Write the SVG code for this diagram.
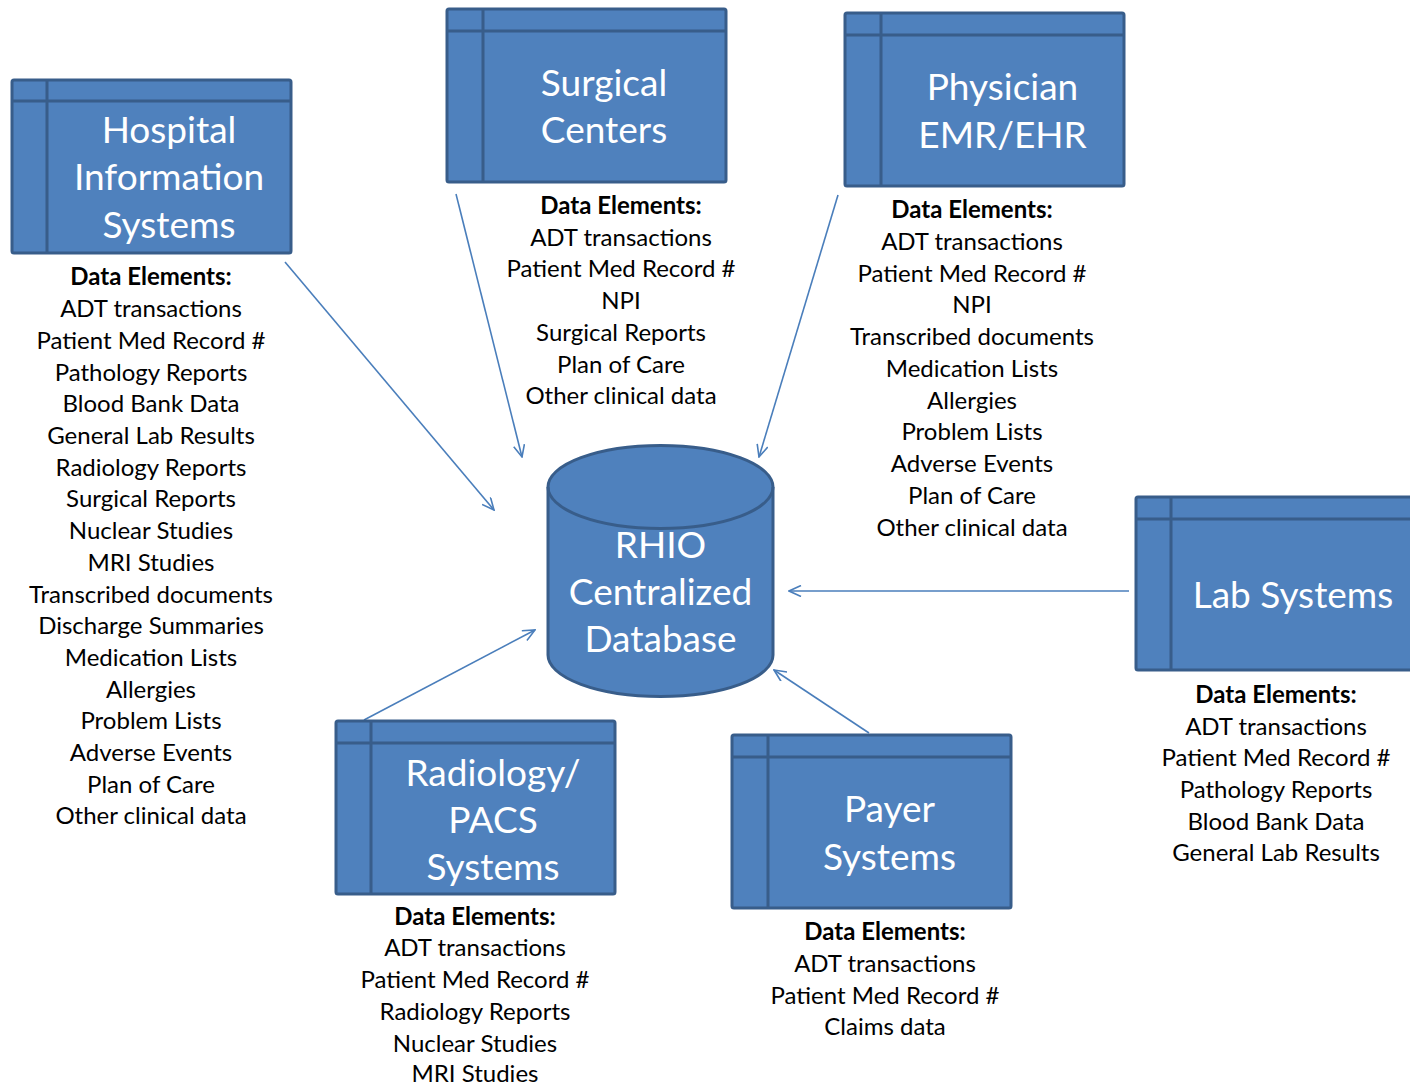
<svg xmlns="http://www.w3.org/2000/svg" width="1410" height="1084" viewBox="0 0 1410 1084">
<defs>
<style>
.box{fill:#4f81bd;stroke:#385d8a;stroke-width:3}
.ln{stroke:#385d8a;stroke-width:3;fill:none}
.title{font-family:Lato,"Open Sans",sans-serif;font-size:37px;fill:#ffffff;text-anchor:middle}
.list{font-family:Lato,"Open Sans",sans-serif;font-size:24px;fill:#000000;text-anchor:middle}
.hd{font-weight:bold}
.conn{stroke:#4a7ebb;stroke-width:1.6;fill:none;marker-end:url(#arr)}
</style>
<marker id="arr" viewBox="0 0 14 12" refX="13" refY="6" markerWidth="14" markerHeight="12" markerUnits="userSpaceOnUse" orient="auto">
<path d="M1,0.5 L13,6 L1,11.5" fill="none" stroke="#4a7ebb" stroke-width="1.6"/>
</marker>
</defs>
<rect width="1410" height="1084" fill="#ffffff"/>

<g id="connectors">
<line class="conn" x1="285" y1="262" x2="494" y2="510"/>
<line class="conn" x1="456" y1="194" x2="522" y2="457"/>
<line class="conn" x1="838" y1="195" x2="759" y2="457"/>
<line class="conn" x1="1129" y1="591" x2="789" y2="591"/>
<line class="conn" x1="364" y1="720" x2="535" y2="630"/>
<line class="conn" x1="869" y1="733" x2="774" y2="670"/>
</g>

<g id="rhio">
<path class="box" d="M548,487 L548,655 A112.5,41.5 0 0 0 773,655 L773,487 A112.5,41.5 0 0 0 548,487 Z"/>
<path class="ln" d="M548,487 A112.5,41.5 0 0 0 773,487"/>
<text class="title" x="660.5" y="558">RHIO</text>
<text class="title" x="660.5" y="605">Centralized</text>
<text class="title" x="660.5" y="652">Database</text>
</g>

<g id="hospital">
<rect class="box" x="12" y="80" width="279" height="173" rx="2"/>
<path class="ln" d="M47,80 V253 M12,101 H291"/>
<text class="title" x="169" y="143">Hospital</text>
<text class="title" x="169" y="190">Information</text>
<text class="title" x="169" y="238">Systems</text>
<g class="list">
<text x="151" y="285" class="hd">Data Elements:</text>
<text x="151" y="317">ADT transactions</text>
<text x="151" y="349">Patient Med Record #</text>
<text x="151" y="381">Pathology Reports</text>
<text x="151" y="412">Blood Bank Data</text>
<text x="151" y="444">General Lab Results</text>
<text x="151" y="476">Radiology Reports</text>
<text x="151" y="507">Surgical Reports</text>
<text x="151" y="539">Nuclear Studies</text>
<text x="151" y="571">MRI Studies</text>
<text x="151" y="603">Transcribed documents</text>
<text x="151" y="634">Discharge Summaries</text>
<text x="151" y="666">Medication Lists</text>
<text x="151" y="698">Allergies</text>
<text x="151" y="729">Problem Lists</text>
<text x="151" y="761">Adverse Events</text>
<text x="151" y="793">Plan of Care</text>
<text x="151" y="824">Other clinical data</text>
</g>
</g>

<g id="surgical">
<rect class="box" x="447" y="9" width="279" height="173" rx="2"/>
<path class="ln" d="M483,9 V182 M447,31 H726"/>
<text class="title" x="604" y="96">Surgical</text>
<text class="title" x="604" y="143">Centers</text>
<g class="list">
<text x="621" y="214" class="hd">Data Elements:</text>
<text x="621" y="246">ADT transactions</text>
<text x="621" y="277">Patient Med Record #</text>
<text x="621" y="309">NPI</text>
<text x="621" y="341">Surgical Reports</text>
<text x="621" y="373">Plan of Care</text>
<text x="621" y="404">Other clinical data</text>
</g>
</g>

<g id="physician">
<rect class="box" x="845" y="13" width="279" height="173" rx="2"/>
<path class="ln" d="M881,13 V186 M845,35 H1124"/>
<text class="title" x="1002.5" y="100">Physician</text>
<text class="title" x="1002.5" y="148">EMR/EHR</text>
<g class="list">
<text x="972" y="218" class="hd">Data Elements:</text>
<text x="972" y="250">ADT transactions</text>
<text x="972" y="282">Patient Med Record #</text>
<text x="972" y="313">NPI</text>
<text x="972" y="345">Transcribed documents</text>
<text x="972" y="377">Medication Lists</text>
<text x="972" y="409">Allergies</text>
<text x="972" y="440">Problem Lists</text>
<text x="972" y="472">Adverse Events</text>
<text x="972" y="504">Plan of Care</text>
<text x="972" y="536">Other clinical data</text>
</g>
</g>

<g id="lab">
<rect class="box" x="1136" y="497" width="279" height="173" rx="2"/>
<path class="ln" d="M1171,497 V670 M1136,519 H1415"/>
<text class="title" x="1293" y="608">Lab Systems</text>
<g class="list">
<text x="1276" y="703" class="hd">Data Elements:</text>
<text x="1276" y="735">ADT transactions</text>
<text x="1276" y="766">Patient Med Record #</text>
<text x="1276" y="798">Pathology Reports</text>
<text x="1276" y="830">Blood Bank Data</text>
<text x="1276" y="861">General Lab Results</text>
</g>
</g>

<g id="radiology">
<rect class="box" x="336" y="721" width="279" height="173" rx="2"/>
<path class="ln" d="M371,721 V894 M336,743 H615"/>
<text class="title" x="493" y="786">Radiology/</text>
<text class="title" x="493" y="833">PACS</text>
<text class="title" x="493" y="880">Systems</text>
<g class="list">
<text x="475" y="925" class="hd">Data Elements:</text>
<text x="475" y="956">ADT transactions</text>
<text x="475" y="988">Patient Med Record #</text>
<text x="475" y="1020">Radiology Reports</text>
<text x="475" y="1052">Nuclear Studies</text>
<text x="475" y="1082">MRI Studies</text>
</g>
</g>

<g id="payer">
<rect class="box" x="732" y="735" width="279" height="173" rx="2"/>
<path class="ln" d="M768,735 V908 M732,757 H1011"/>
<text class="title" x="889.5" y="822">Payer</text>
<text class="title" x="889.5" y="870">Systems</text>
<g class="list">
<text x="885" y="940" class="hd">Data Elements:</text>
<text x="885" y="972">ADT transactions</text>
<text x="885" y="1004">Patient Med Record #</text>
<text x="885" y="1035">Claims data</text>
</g>
</g>
</svg>
